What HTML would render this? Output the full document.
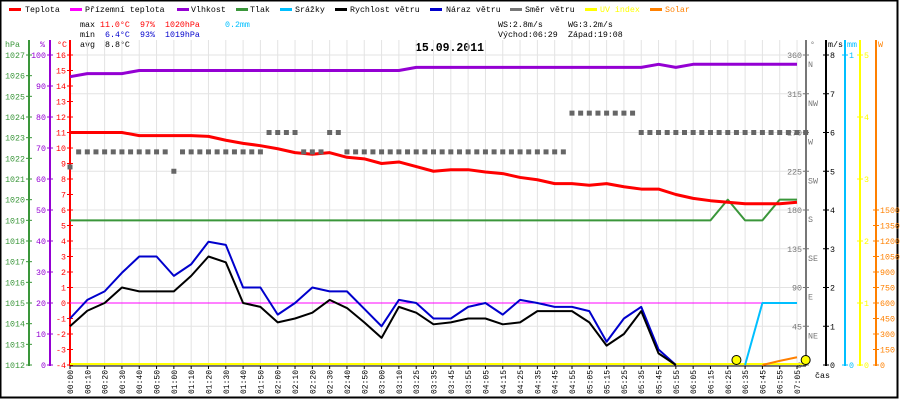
<!DOCTYPE html>
<html><head><meta charset="utf-8">
<style>
html,body{margin:0;padding:0;background:#fff;}
svg{display:block;font-family:"Liberation Mono",monospace;}
</style></head>
<body>
<svg id="chart" width="900" height="400" viewBox="0 0 900 400" xmlns="http://www.w3.org/2000/svg">
<rect x="0.5" y="0.5" width="897" height="397" fill="#fff" stroke="#000" stroke-width="2"/>
<g id="legend" font-size="8.3">
 <g><rect x="9" y="8" width="12" height="3" fill="#f00"/><text x="25" y="12">Teplota</text></g>
 <g><rect x="70" y="8" width="12" height="3" fill="#f0f"/><text x="85" y="12">Přízemní teplota</text></g>
 <g><rect x="177" y="8" width="12" height="3" fill="#9400d3"/><text x="191" y="12">Vlhkost</text></g>
 <g><rect x="236" y="8" width="12" height="3" fill="#3a963a"/><text x="250" y="12">Tlak</text></g>
 <g><rect x="280" y="8" width="12" height="3" fill="#00bfff"/><text x="295" y="12">Srážky</text></g>
 <g><rect x="335" y="8" width="12" height="3" fill="#000"/><text x="350" y="12">Rychlost větru</text></g>
 <g><rect x="430" y="8" width="12" height="3" fill="#0000cc"/><text x="446" y="12">Náraz větru</text></g>
 <g><rect x="510" y="8" width="12" height="3" fill="#777"/><text x="525" y="12">Směr větru</text></g>
 <g><rect x="585" y="8" width="12" height="3" fill="#ff0"/><text x="600" y="12" fill="#ff0">UV index</text></g>
 <g><rect x="650" y="8" width="12" height="3" fill="#ff8000"/><text x="665" y="12" fill="#ff8000">Solar</text></g>
</g>
<g font-size="8.3">
 <text x="80" y="27">max</text><text x="100" y="27" fill="#f00">11.0°C</text><text x="140" y="27" fill="#f00">97%</text><text x="165" y="27" fill="#f00">1020hPa</text><text x="225" y="27" fill="#00bfff">0.2mm</text>
 <text x="80" y="37">min</text><text x="105" y="37" fill="#00c">6.4°C</text><text x="140" y="37" fill="#00c">93%</text><text x="165" y="37" fill="#00c">1019hPa</text>
 <text x="80" y="47">avg</text><text x="105" y="47">8.8°C</text>
 <text x="498" y="27">WS:2.8m/s</text><text x="568" y="27">WG:3.2m/s</text>
 <text x="498" y="37">Východ:06:29</text><text x="568" y="37">Západ:19:08</text>
</g>
<text x="415" y="51" font-size="11.5" font-weight="bold">15.09.2011</text>
<g id="grid"></g>
<g id="axes"></g>
<g id="series"></g>
</svg>
<script>
const slotLabels=["00:00","00:10","00:20","00:30","00:40","00:50","01:00","01:10","01:20","01:30","01:40","01:50","02:00","02:10","02:20","02:30","02:40","02:50","03:00","03:10","03:25","03:35","03:45","03:55","04:05","04:15","04:25","04:35","04:45","04:55","05:05","05:15","05:25","05:35","05:45","05:55","06:05","06:15","06:25","06:35","06:45","06:55","07:05"];
const tempC=[11.0,11.0,11.0,11.0,10.8,10.8,10.8,10.8,10.75,10.5,10.3,10.15,9.95,9.7,9.6,9.7,9.4,9.3,9.0,9.1,8.8,8.5,8.6,8.6,8.45,8.35,8.1,7.95,7.7,7.7,7.6,7.7,7.5,7.35,7.35,7.0,6.75,6.6,6.5,6.4,6.4,6.4,6.5];
const humidity=[93,94,94,94,95,95,95,95,95,95,95,95,95,95,95,95,95,95,95,95,96,96,96,96,96,96,96,96,96,96,96,96,96,96,97,96,97,97,97,97,97,97,97];
const pressure=[1019,1019,1019,1019,1019,1019,1019,1019,1019,1019,1019,1019,1019,1019,1019,1019,1019,1019,1019,1019,1019,1019,1019,1019,1019,1019,1019,1019,1019,1019,1019,1019,1019,1019,1019,1019,1019,1019,1020,1019,1019,1020,1020];
const groundTemp=[0,0,0,0,0,0,0,0,0,0,0,0,0,0,0,0,0,0,0,0,0,0,0,0,0,0,0,0,0,0,0,0,0,0,0,0,0,0,0,0,0];
const windSpeed=[1.0,1.4,1.6,2.0,1.9,1.9,1.9,2.3,2.8,2.65,1.6,1.5,1.1,1.2,1.35,1.68,1.47,1.1,0.7,1.5,1.35,1.05,1.1,1.2,1.2,1.05,1.1,1.39,1.39,1.39,1.1,0.5,0.8,1.39,0.3,0];
const windGust=[1.2,1.68,1.9,2.38,2.8,2.8,2.3,2.6,3.18,3.1,2.0,2.0,1.3,1.6,2.0,1.9,1.9,1.45,1.0,1.68,1.6,1.2,1.2,1.5,1.6,1.3,1.68,1.6,1.5,1.5,1.39,0.6,1.2,1.5,0.4,0];
const windDir=[230,247.5,247.5,247.5,247.5,247.5,247.5,247.5,247.5,247.5,247.5,247.5,225,247.5,247.5,247.5,247.5,247.5,247.5,247.5,247.5,247.5,247.5,270,270,270,270,247.5,247.5,247.5,270,270,
247.5,247.5,247.5,247.5,247.5,247.5,247.5,247.5,247.5,247.5,247.5,247.5,247.5,247.5,247.5,247.5,247.5,247.5,247.5,247.5,247.5,247.5,247.5,247.5,247.5,247.5,
292.5,292.5,292.5,292.5,292.5,292.5,292.5,292.5,270,270,270,270,270,270,270,270,270,270,270,270,270,270,270,270,270,270,270,270];
const precipSlots=[39,40,41,42];
const precipMm=[0,0.2,0.2,0.2];
const solarSlots=[40,41,42];
const solarW=[0,40,75];
const uvSamples=[77,85];
const uvValues=[0,0];
const hpaTicks=[1027,1026,1025,1024,1023,1022,1021,1020,1019,1018,1017,1016,1015,1014,1013,1012];
const humTicks=[100,90,80,70,60,50,40,30,20,10,0];
const tempTicks=[16,15,14,13,12,11,10,9,8,7,6,5,4,3,2,1,0,-1,-2,-3,-4];
const dirTicks=[360,315,270,225,180,135,90,45,0];
const dirNames=["N","NW","W","SW","S","SE","E","NE",""];
const msTicks=[8,7,6,5,4,3,2,1,0];
const uvTicks=[5,4,3,2,1,0];
const solarTicks=[1500,1350,1200,1050,900,750,600,450,300,150,0];

const TOP=55,BOT=365,X0=70,SLOT=17.31;
const xs=i=>X0+i*SLOT;
const xk=k=>X0+k*SLOT/2;
const yT=v=>TOP+(16-v)*(BOT-TOP)/20;
const yH=v=>BOT-v*(BOT-TOP)/100;
const yP=v=>TOP+(1027-v)*(BOT-TOP)/15;
const yW=v=>BOT-v*(BOT-TOP)/8;
const yD=v=>BOT-v*(BOT-TOP)/360;
const yMm=v=>BOT-v*(BOT-TOP)/1;
const yUV=v=>BOT-v*(BOT-TOP)/5;
const ySol=v=>BOT-v*(BOT-TOP)*0.5/1500;
const NS="http://www.w3.org/2000/svg";
const FS=8.3;
function mk(tag,attrs,parent,txt){const e=document.createElementNS(NS,tag);for(const k in attrs)e.setAttribute(k,attrs[k]);if(txt!==undefined)e.textContent=txt;parent.appendChild(e);return e;}
const grid=document.getElementById('grid'),axes=document.getElementById('axes'),series=document.getElementById('series');

for(let i=0;i<slotLabels.length;i++){
 const g=mk('line',{x1:xs(i),x2:xs(i),y1:40,y2:BOT,stroke:'#e3e3e3','stroke-width':1},grid);
 
 
}
for(let v=0;v<=8;v++){
 const g=mk('line',{x1:X0,x2:806,y1:yW(v),y2:yW(v),stroke:'#e3e3e3','stroke-width':1},grid);
 
 
}
function vAxis(name,x,color,ticks,yf,side){
 const ax=mk('line',{x1:x,x2:x,y1:40,y2:BOT+1,stroke:color,'stroke-width':2},axes);
 
 
 ticks.forEach(t=>{
  const y=yf(t);
  mk('line',{x1:x-3,x2:x+3,y1:y,y2:y,stroke:color,'stroke-width':1},axes);
  const lbl=mk('text',{x:side<0?x-4:x+4,y:y+3,'font-size':FS,fill:color,'text-anchor':side<0?'end':'start'},axes,String(t));
  
  
 });
}
vAxis('pressure-axis',29,'#3a963a',hpaTicks,yP,-1);
vAxis('humidity-axis',50,'#9400d3',humTicks,yH,-1);
vAxis('temperature-axis',70,'#f00',tempTicks,yT,-1);
vAxis('direction-axis',806,'#777',dirTicks,yD,-1);
dirNames.forEach((n,j)=>{const t=mk('text',{x:808,y:yD(dirTicks[j])+12,'font-size':FS,fill:'#777'},axes,n);
 
 });
vAxis('wind-speed-axis',826,'#000',msTicks,yW,1);
vAxis('precip-axis',845,'#00bfff',[1,0],yMm,1);
vAxis('uv-axis',860,'#ff0',uvTicks,yUV,1);
vAxis('solar-axis',876,'#ff8000',solarTicks,ySol,1);
[['hPa',5,'#3a963a'],['%',40,'#9400d3'],['°C',57,'#f00'],['°',810,'#777'],['m/s',828,'#000'],['mm',847,'#00bfff'],['W',878,'#ff8000']].forEach(a=>{
 const t=mk('text',{x:a[1],y:47,'font-size':FS,fill:a[2]},axes,a[0]);
 
 
});
const cas=mk('text',{x:815,y:378,'font-size':FS},axes,'čas');


const xa=mk('line',{x1:X0,x2:806,y1:BOT+1,y2:BOT+1,stroke:'#000','stroke-width':1},axes);


slotLabels.forEach((l,i)=>{
 mk('line',{x1:xs(i),x2:xs(i),y1:BOT+1,y2:BOT+4,stroke:'#000'},axes);
 const t=mk('text',{x:0,y:0,'font-size':8,transform:`translate(${xs(i)+3},394) rotate(-90)`},axes,l);
 
 
});
function line(name,vals,xf,yf,color,w){
 const pts=vals.map((v,i)=>xf(i)+','+yf(v)).join(' ');
 const p=mk('polyline',{points:pts,fill:'none',stroke:color,'stroke-width':w,'stroke-linejoin':'round'},series);
 
 
}
const uvl=mk('line',{x1:X0,x2:806,y1:BOT-1,y2:BOT-1,stroke:'#ff0','stroke-width':2},series);


line('ground-temperature-line',groundTemp,xs,yT,'#f0f',1);
line('pressure-line',pressure,xs,yP,'#3a963a',2);
line('humidity-line',humidity,xs,yH,'#9400d3',3);
line('temperature-line',tempC,xs,yT,'#f00',3);
line('wind-gust-line',windGust,xs,yW,'#0000cc',2);
line('wind-speed-line',windSpeed,xs,yW,'#000',2);
line('precipitation-line',precipMm,i=>xs(precipSlots[i]),yMm,'#00bfff',2);
line('solar-line',solarW,i=>xs(solarSlots[i]),ySol,'#ff8000',2);
windDir.forEach((d,k)=>{
 const r=mk('rect',{x:xk(k)-2.5,y:yD(d)-2.5,width:5,height:5,fill:'#666'},series);
 
 
});
uvValues.forEach((v,j)=>{
 const c=mk('circle',{cx:xk(uvSamples[j]),cy:yUV(v)-5,r:4.5,fill:'#ff0',stroke:'#000','stroke-width':1},series);
 
 
});
</script>
</body></html>
